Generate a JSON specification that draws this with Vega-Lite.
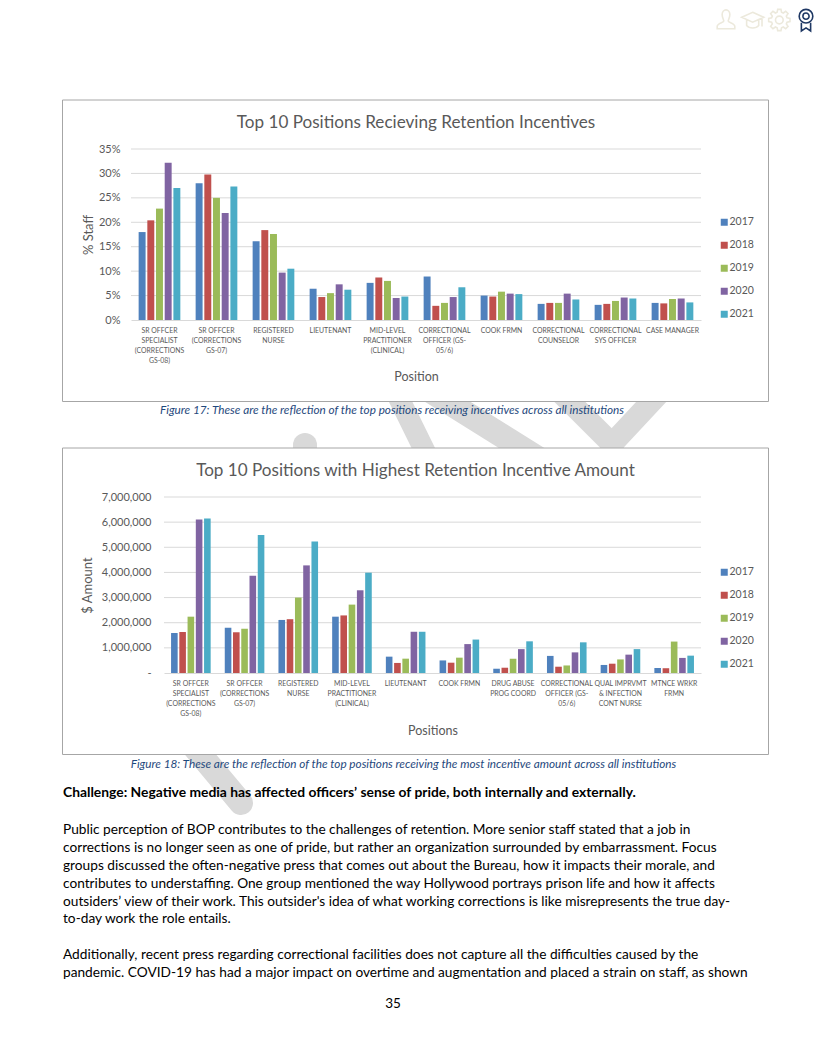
{"$schema":"https://vega.github.io/schema/vega-lite/v6.json","width":817,"height":1057,"padding":0,"autosize":{"type":"none"},"background":"white","config":{"view":{"stroke":null},"font":"Lato"},
"datasets":{
"staff":[
{"position":"SR OFFCER\nSPECIALIST\n(CORRECTIONS\nGS-08)","year":"2017","share":0.18},{"position":"SR OFFCER\nSPECIALIST\n(CORRECTIONS\nGS-08)","year":"2018","share":0.204},{"position":"SR OFFCER\nSPECIALIST\n(CORRECTIONS\nGS-08)","year":"2019","share":0.228},{"position":"SR OFFCER\nSPECIALIST\n(CORRECTIONS\nGS-08)","year":"2020","share":0.322},{"position":"SR OFFCER\nSPECIALIST\n(CORRECTIONS\nGS-08)","year":"2021","share":0.27},
{"position":"SR OFFCER\n(CORRECTIONS\nGS-07)","year":"2017","share":0.28},{"position":"SR OFFCER\n(CORRECTIONS\nGS-07)","year":"2018","share":0.298},{"position":"SR OFFCER\n(CORRECTIONS\nGS-07)","year":"2019","share":0.25},{"position":"SR OFFCER\n(CORRECTIONS\nGS-07)","year":"2020","share":0.219},{"position":"SR OFFCER\n(CORRECTIONS\nGS-07)","year":"2021","share":0.273},
{"position":"REGISTERED\nNURSE","year":"2017","share":0.161},{"position":"REGISTERED\nNURSE","year":"2018","share":0.184},{"position":"REGISTERED\nNURSE","year":"2019","share":0.176},{"position":"REGISTERED\nNURSE","year":"2020","share":0.097},{"position":"REGISTERED\nNURSE","year":"2021","share":0.105},
{"position":"LIEUTENANT","year":"2017","share":0.064},{"position":"LIEUTENANT","year":"2018","share":0.047},{"position":"LIEUTENANT","year":"2019","share":0.055},{"position":"LIEUTENANT","year":"2020","share":0.073},{"position":"LIEUTENANT","year":"2021","share":0.062},
{"position":"MID-LEVEL\nPRACTITIONER\n(CLINICAL)","year":"2017","share":0.076},{"position":"MID-LEVEL\nPRACTITIONER\n(CLINICAL)","year":"2018","share":0.087},{"position":"MID-LEVEL\nPRACTITIONER\n(CLINICAL)","year":"2019","share":0.08},{"position":"MID-LEVEL\nPRACTITIONER\n(CLINICAL)","year":"2020","share":0.045},{"position":"MID-LEVEL\nPRACTITIONER\n(CLINICAL)","year":"2021","share":0.048},
{"position":"CORRECTIONAL\nOFFICER (GS-\n05/6)","year":"2017","share":0.089},{"position":"CORRECTIONAL\nOFFICER (GS-\n05/6)","year":"2018","share":0.029},{"position":"CORRECTIONAL\nOFFICER (GS-\n05/6)","year":"2019","share":0.035},{"position":"CORRECTIONAL\nOFFICER (GS-\n05/6)","year":"2020","share":0.047},{"position":"CORRECTIONAL\nOFFICER (GS-\n05/6)","year":"2021","share":0.067},
{"position":"COOK FRMN","year":"2017","share":0.05},{"position":"COOK FRMN","year":"2018","share":0.048},{"position":"COOK FRMN","year":"2019","share":0.058},{"position":"COOK FRMN","year":"2020","share":0.054},{"position":"COOK FRMN","year":"2021","share":0.053},
{"position":"CORRECTIONAL\nCOUNSELOR","year":"2017","share":0.033},{"position":"CORRECTIONAL\nCOUNSELOR","year":"2018","share":0.035},{"position":"CORRECTIONAL\nCOUNSELOR","year":"2019","share":0.035},{"position":"CORRECTIONAL\nCOUNSELOR","year":"2020","share":0.054},{"position":"CORRECTIONAL\nCOUNSELOR","year":"2021","share":0.042},
{"position":"CORRECTIONAL\nSYS OFFICER","year":"2017","share":0.031},{"position":"CORRECTIONAL\nSYS OFFICER","year":"2018","share":0.033},{"position":"CORRECTIONAL\nSYS OFFICER","year":"2019","share":0.039},{"position":"CORRECTIONAL\nSYS OFFICER","year":"2020","share":0.046},{"position":"CORRECTIONAL\nSYS OFFICER","year":"2021","share":0.044},
{"position":"CASE MANAGER","year":"2017","share":0.035},{"position":"CASE MANAGER","year":"2018","share":0.034},{"position":"CASE MANAGER","year":"2019","share":0.043},{"position":"CASE MANAGER","year":"2020","share":0.044},{"position":"CASE MANAGER","year":"2021","share":0.036}
],
"amount":[
{"position":"SR OFFCER\nSPECIALIST\n(CORRECTIONS\nGS-08)","year":"2017","amount":1590000},{"position":"SR OFFCER\nSPECIALIST\n(CORRECTIONS\nGS-08)","year":"2018","amount":1630000},{"position":"SR OFFCER\nSPECIALIST\n(CORRECTIONS\nGS-08)","year":"2019","amount":2240000},{"position":"SR OFFCER\nSPECIALIST\n(CORRECTIONS\nGS-08)","year":"2020","amount":6110000},{"position":"SR OFFCER\nSPECIALIST\n(CORRECTIONS\nGS-08)","year":"2021","amount":6140000},
{"position":"SR OFFCER\n(CORRECTIONS\nGS-07)","year":"2017","amount":1800000},{"position":"SR OFFCER\n(CORRECTIONS\nGS-07)","year":"2018","amount":1620000},{"position":"SR OFFCER\n(CORRECTIONS\nGS-07)","year":"2019","amount":1760000},{"position":"SR OFFCER\n(CORRECTIONS\nGS-07)","year":"2020","amount":3870000},{"position":"SR OFFCER\n(CORRECTIONS\nGS-07)","year":"2021","amount":5490000},
{"position":"REGISTERED\nNURSE","year":"2017","amount":2110000},{"position":"REGISTERED\nNURSE","year":"2018","amount":2140000},{"position":"REGISTERED\nNURSE","year":"2019","amount":3000000},{"position":"REGISTERED\nNURSE","year":"2020","amount":4280000},{"position":"REGISTERED\nNURSE","year":"2021","amount":5230000},
{"position":"MID-LEVEL\nPRACTITIONER\n(CLINICAL)","year":"2017","amount":2240000},{"position":"MID-LEVEL\nPRACTITIONER\n(CLINICAL)","year":"2018","amount":2290000},{"position":"MID-LEVEL\nPRACTITIONER\n(CLINICAL)","year":"2019","amount":2720000},{"position":"MID-LEVEL\nPRACTITIONER\n(CLINICAL)","year":"2020","amount":3290000},{"position":"MID-LEVEL\nPRACTITIONER\n(CLINICAL)","year":"2021","amount":3990000},
{"position":"LIEUTENANT","year":"2017","amount":650000},{"position":"LIEUTENANT","year":"2018","amount":400000},{"position":"LIEUTENANT","year":"2019","amount":570000},{"position":"LIEUTENANT","year":"2020","amount":1640000},{"position":"LIEUTENANT","year":"2021","amount":1640000},
{"position":"COOK FRMN","year":"2017","amount":500000},{"position":"COOK FRMN","year":"2018","amount":410000},{"position":"COOK FRMN","year":"2019","amount":610000},{"position":"COOK FRMN","year":"2020","amount":1150000},{"position":"COOK FRMN","year":"2021","amount":1330000},
{"position":"DRUG ABUSE\nPROG COORD","year":"2017","amount":170000},{"position":"DRUG ABUSE\nPROG COORD","year":"2018","amount":210000},{"position":"DRUG ABUSE\nPROG COORD","year":"2019","amount":570000},{"position":"DRUG ABUSE\nPROG COORD","year":"2020","amount":950000},{"position":"DRUG ABUSE\nPROG COORD","year":"2021","amount":1260000},
{"position":"CORRECTIONAL\nOFFICER (GS-\n05/6)","year":"2017","amount":680000},{"position":"CORRECTIONAL\nOFFICER (GS-\n05/6)","year":"2018","amount":250000},{"position":"CORRECTIONAL\nOFFICER (GS-\n05/6)","year":"2019","amount":300000},{"position":"CORRECTIONAL\nOFFICER (GS-\n05/6)","year":"2020","amount":820000},{"position":"CORRECTIONAL\nOFFICER (GS-\n05/6)","year":"2021","amount":1220000},
{"position":"QUAL IMPRVMT\n& INFECTION\nCONT NURSE","year":"2017","amount":320000},{"position":"QUAL IMPRVMT\n& INFECTION\nCONT NURSE","year":"2018","amount":370000},{"position":"QUAL IMPRVMT\n& INFECTION\nCONT NURSE","year":"2019","amount":540000},{"position":"QUAL IMPRVMT\n& INFECTION\nCONT NURSE","year":"2020","amount":730000},{"position":"QUAL IMPRVMT\n& INFECTION\nCONT NURSE","year":"2021","amount":950000},
{"position":"MTNCE WRKR\nFRMN","year":"2017","amount":200000},{"position":"MTNCE WRKR\nFRMN","year":"2018","amount":190000},{"position":"MTNCE WRKR\nFRMN","year":"2019","amount":1250000},{"position":"MTNCE WRKR\nFRMN","year":"2020","amount":600000},{"position":"MTNCE WRKR\nFRMN","year":"2021","amount":690000}
]},
"resolve":{"scale":{"x":"independent","y":"independent","xOffset":"independent","color":"independent"},"axis":{"x":"independent","y":"independent"},"legend":{"color":"independent"}},
"layer":[
{"data":{"values":[{"x0":190,"y0":742,"x1":241,"y1":803,"w":24},{"x0":305,"y0":470,"x1":305,"y1":445,"w":24},{"x0":385,"y0":370,"x1":440,"y1":482,"w":21},{"x0":400,"y0":372,"x1":560,"y1":472,"w":24},{"x0":540,"y0":372,"x1":613,"y1":445,"w":22},{"x0":680,"y0":371,"x1":611,"y1":445,"w":22}]},"mark":{"type":"rule","color":"#d9d9d9","strokeCap":"round"},"encoding":{"x":{"field":"x0","type":"quantitative","axis":null,"scale":{"domain":[0,817],"range":[0,817]}},"x2":{"field":"x1"},"y":{"field":"y0","type":"quantitative","axis":null,"scale":{"domain":[0,1057],"range":[0,1057]}},"y2":{"field":"y1"},"strokeWidth":{"field":"w","type":"quantitative","scale":null}}},
{"data":{"values":[{}]},"mark":{"type":"rect","fill":"white","stroke":"#a6a6a6","strokeWidth":1},"encoding":{"x":{"datum":0,"type":"quantitative","axis":null,"scale":{"domain":[0,1],"range":[62.5,768.5]}},"x2":{"datum":1},"y":{"datum":0,"type":"quantitative","axis":null,"scale":{"domain":[0,1],"range":[100,401.5]}},"y2":{"datum":1}}},
{"data":{"values":[{}]},"mark":{"type":"rect","fill":"white","stroke":"#a6a6a6","strokeWidth":1},"encoding":{"x":{"datum":0,"type":"quantitative","axis":null,"scale":{"domain":[0,1],"range":[62.5,768.5]}},"x2":{"datum":1},"y":{"datum":0,"type":"quantitative","axis":null,"scale":{"domain":[0,1],"range":[448,754.5]}},"y2":{"datum":1}}},
{"data":{"values":[{"tick":0.05},{"tick":0.1},{"tick":0.15},{"tick":0.2},{"tick":0.25},{"tick":0.3},{"tick":0.35}]},"mark":{"type":"rule","color":"#d9d9d9","strokeWidth":1},"encoding":{"y":{"field":"tick","type":"quantitative","axis":null,"scale":{"domain":[0,0.35],"range":[320,149],"nice":false}},"x":{"datum":0,"type":"quantitative","axis":null,"scale":{"domain":[0,1],"range":[131,701]}},"x2":{"datum":1}}},
{"data":{"values":[{"tick":1000000},{"tick":2000000},{"tick":3000000},{"tick":4000000},{"tick":5000000},{"tick":6000000},{"tick":7000000}]},"mark":{"type":"rule","color":"#d9d9d9","strokeWidth":1},"encoding":{"y":{"field":"tick","type":"quantitative","axis":null,"scale":{"domain":[0,7000000],"range":[673,497],"nice":false}},"x":{"datum":0,"type":"quantitative","axis":null,"scale":{"domain":[0,1],"range":[164,701]}},"x2":{"datum":1}}},
{"data":{"name":"staff"},"mark":{"type":"bar"},"encoding":{
"x":{"field":"position","type":"nominal","sort":null,"scale":{"type":"band","range":[131,701],"paddingInner":0.268,"paddingOuter":0.134},"axis":{"orient":"bottom","offset":-737,"zindex":1,"title":"Position","titleFont":"Lato","titleFontSize":12.5,"titleFontWeight":"normal","titleColor":"#595959","titlePadding":8,"domain":true,"domainColor":"#d9d9d9","ticks":false,"labelAngle":0,"labelAlign":"center","labelBaseline":"top","labelPadding":7,"labelFontSize":6.9,"labelColor":"#595959","labelLimit":0,"labelOverlap":false,"labelLineHeight":10,"labelExpr":"split(datum.label,'\\n')","grid":false}},
"xOffset":{"field":"year","type":"nominal","scale":{"range":[0,41.7],"paddingInner":0.2}},
"y":{"field":"share","type":"quantitative","scale":{"domain":[0,0.35],"range":[320,149],"nice":false},"axis":{"orient":"left","offset":-131,"zindex":1,"values":[0,0.05,0.1,0.15,0.2,0.25,0.3,0.35],"format":".0%","title":"% Staff","titleFont":"Lato","titleFontSize":13,"titleFontWeight":"normal","titleColor":"#595959","titlePadding":3,"domain":false,"ticks":false,"labelPadding":11,"labelFontSize":11,"labelColor":"#595959","grid":false}},
"color":{"field":"year","type":"nominal","scale":{"range":["#4f81bd","#c0504d","#9bbb59","#8064a2","#4bacc6"]},"legend":{"title":null,"orient":"none","legendX":719,"legendY":217,"symbolType":"square","symbolSize":49,"symbolStrokeWidth":0,"labelFontSize":10.5,"labelColor":"#595959","labelOffset":0,"rowPadding":12}}}},
{"data":{"name":"amount"},"mark":{"type":"bar"},"encoding":{
"x":{"field":"position","type":"nominal","sort":null,"scale":{"type":"band","range":[164,701],"paddingInner":0.263,"paddingOuter":0.1315},"axis":{"orient":"bottom","offset":-384,"zindex":1,"title":"Positions","titleFont":"Lato","titleFontSize":12.5,"titleFontWeight":"normal","titleColor":"#595959","titlePadding":9,"domain":true,"domainColor":"#d9d9d9","ticks":false,"labelAngle":0,"labelAlign":"center","labelBaseline":"top","labelPadding":7,"labelFontSize":6.9,"labelColor":"#595959","labelLimit":0,"labelOverlap":false,"labelLineHeight":10,"labelExpr":"split(datum.label,'\\n')","grid":false}},
"xOffset":{"field":"year","type":"nominal","scale":{"range":[0,39.6],"paddingInner":0.2}},
"y":{"field":"amount","type":"quantitative","scale":{"domain":[0,7000000],"range":[673,497],"nice":false},"axis":{"orient":"left","offset":-164,"zindex":1,"values":[0,1000000,2000000,3000000,4000000,5000000,6000000,7000000],"labelExpr":"datum.value==0?'-':format(datum.value,',')","title":"$ Amount","titleFont":"Lato","titleFontSize":13,"titleFontWeight":"normal","titleColor":"#595959","titlePadding":7,"domain":false,"ticks":false,"labelPadding":13,"labelFontSize":11,"labelColor":"#595959","grid":false}},
"color":{"field":"year","type":"nominal","scale":{"range":["#4f81bd","#c0504d","#9bbb59","#8064a2","#4bacc6"]},"legend":{"title":null,"orient":"none","legendX":719,"legendY":567,"symbolType":"square","symbolSize":49,"symbolStrokeWidth":0,"labelFontSize":10.5,"labelColor":"#595959","labelOffset":0,"rowPadding":12}}}},
{"data":{"values":[{"text":"Top 10 Positions Recieving Retention Incentives"},{"text":"Top 10 Positions with Highest Retention Incentive Amount"}]},"mark":{"type":"text","fontSize":17.1,"color":"#595959","align":"center","baseline":"middle"},"encoding":{"text":{"field":"text"},"x":{"field":"text","type":"nominal","sort":null,"axis":null,"scale":{"type":"point","padding":0,"range":[416,415.5]}},"y":{"field":"text","type":"nominal","sort":null,"axis":null,"scale":{"type":"point","padding":0,"range":[123,471]}}}},
{"data":{"values":[{"text":"Figure 17: These are the reflection of the top positions receiving incentives across all institutions"},{"text":"Figure 18: These are the reflection of the top positions receiving the most incentive amount across all institutions"}]},"mark":{"type":"text","fontSize":11.75,"fontStyle":"italic","color":"#1f497d","align":"center","baseline":"middle"},"encoding":{"text":{"field":"text"},"x":{"field":"text","type":"nominal","sort":null,"axis":null,"scale":{"type":"point","padding":0,"range":[392,403.5]}},"y":{"field":"text","type":"nominal","sort":null,"axis":null,"scale":{"type":"point","padding":0,"range":[410,764]}}}},
{"data":{"values":[{"text":"Challenge: Negative media has affected officers’ sense of pride, both internally and externally."}]},"mark":{"type":"text","fontSize":13.85,"fontWeight":"bold","color":"#000000","align":"left","baseline":"middle"},"encoding":{"text":{"field":"text"},"x":{"datum":0,"type":"quantitative","axis":null,"scale":{"domain":[0,1],"range":[63,63]}},"y":{"datum":0,"type":"quantitative","axis":null,"scale":{"domain":[0,1],"range":[793,793]}}}},
{"data":{"values":[
{"line":1,"text":"Public perception of BOP contributes to the challenges of retention. More senior staff stated that a job in"},
{"line":2,"text":"corrections is no longer seen as one of pride, but rather an organization surrounded by embarrassment. Focus"},
{"line":3,"text":"groups discussed the often-negative press that comes out about the Bureau, how it impacts their morale, and"},
{"line":4,"text":"contributes to understaffing. One group mentioned the way Hollywood portrays prison life and how it affects"},
{"line":5,"text":"outsiders’ view of their work. This outsider's idea of what working corrections is like misrepresents the true day-"},
{"line":6,"text":"to-day work the role entails."},
{"line":8,"text":"Additionally, recent press regarding correctional facilities does not capture all the difficulties caused by the"},
{"line":9,"text":"pandemic. COVID-19 has had a major impact on overtime and augmentation and placed a strain on staff, as shown"}
]},"mark":{"type":"text","fontSize":13.7,"color":"#000000","align":"left","baseline":"middle"},"encoding":{"text":{"field":"text"},"x":{"datum":0,"type":"quantitative","axis":null,"scale":{"domain":[0,1],"range":[63,63]}},"y":{"field":"line","type":"ordinal","axis":null,"scale":{"type":"point","padding":0,"domain":[1,2,3,4,5,6,7,8,9],"range":[830,973]}}}},
{"data":{"values":[{"text":"35"}]},"mark":{"type":"text","fontSize":13.5,"color":"#000000","align":"center","baseline":"middle"},"encoding":{"text":{"field":"text"},"x":{"datum":0,"type":"quantitative","axis":null,"scale":{"domain":[0,1],"range":[393,393]}},"y":{"datum":0,"type":"quantitative","axis":null,"scale":{"domain":[0,1],"range":[1004,1004]}}}},
{"data":{"values":[{"icon":"person"},{"icon":"cap"},{"icon":"gear"},{"icon":"ribbon"}]},"mark":{"type":"point","filled":false,"strokeWidth":1.6,"opacity":1},"encoding":{
"x":{"field":"icon","type":"nominal","sort":null,"axis":null,"scale":{"type":"point","padding":0,"range":[726,806]}},
"y":{"datum":0,"type":"quantitative","axis":null,"scale":{"domain":[0,1],"range":[20,20]}},
"shape":{"field":"icon","type":"nominal","legend":null,"sort":null,"scale":{"domain":["person","cap","gear","ribbon"],"range":["M-.35,-.5 A.35,.42 0 1 1 .35,-.5 C.35,-.2 .2,-.05 .2,.1 C.2,.25 .8,.3 .8,.6 L.8,.8 L-.8,.8 L-.8,.6 C-.8,.3 -.2,.25 -.2,.1 C-.2,-.05 -.35,-.2 -.35,-.5 Z","M0,-.7 L1,-.25 L0,.2 L-1,-.25 Z M-.55,0 L-.55,.5 C-.3,.8 .3,.8 .55,.5 L.55,0 M.85,-.2 L.85,.6","M.7,-.2 L.97,-.15 L.97,.15 L.7,.2 L.636,.354 L.792,.58 L.58,.792 L.354,.636 L.2,.7 L.15,.97 L-.15,.97 L-.2,.7 L-.354,.636 L-.58,.792 L-.792,.58 L-.636,.354 L-.7,.2 L-.97,.15 L-.97,-.15 L-.7,-.2 L-.636,-.354 L-.792,-.58 L-.58,-.792 L-.354,-.636 L-.2,-.7 L-.15,-.97 L.15,-.97 L.2,-.7 L.354,-.636 L.58,-.792 L.792,-.58 L.636,-.354 Z M.35,0 A.35,.35 0 1 1 -.35,0 A.35,.35 0 1 1 .35,0 Z","M.62,-.35 A.62,.62 0 1 1 -.62,-.35 A.62,.62 0 1 1 .62,-.35 Z M.28,-.35 A.28,.28 0 1 1 -.28,-.35 A.28,.28 0 1 1 .28,-.35 Z M-.42,.25 L-.42,1 L0,.72 L.42,1 L.42,.25"]}},
"size":{"field":"icon","type":"nominal","legend":null,"scale":{"domain":["person","cap","gear","ribbon"],"range":[484,484,484,576]}},
"stroke":{"field":"icon","type":"nominal","legend":null,"scale":{"domain":["person","cap","gear","ribbon"],"range":["#ece9dc","#ece9dc","#ece9dc","#1f3864"]}}
}}
]}
